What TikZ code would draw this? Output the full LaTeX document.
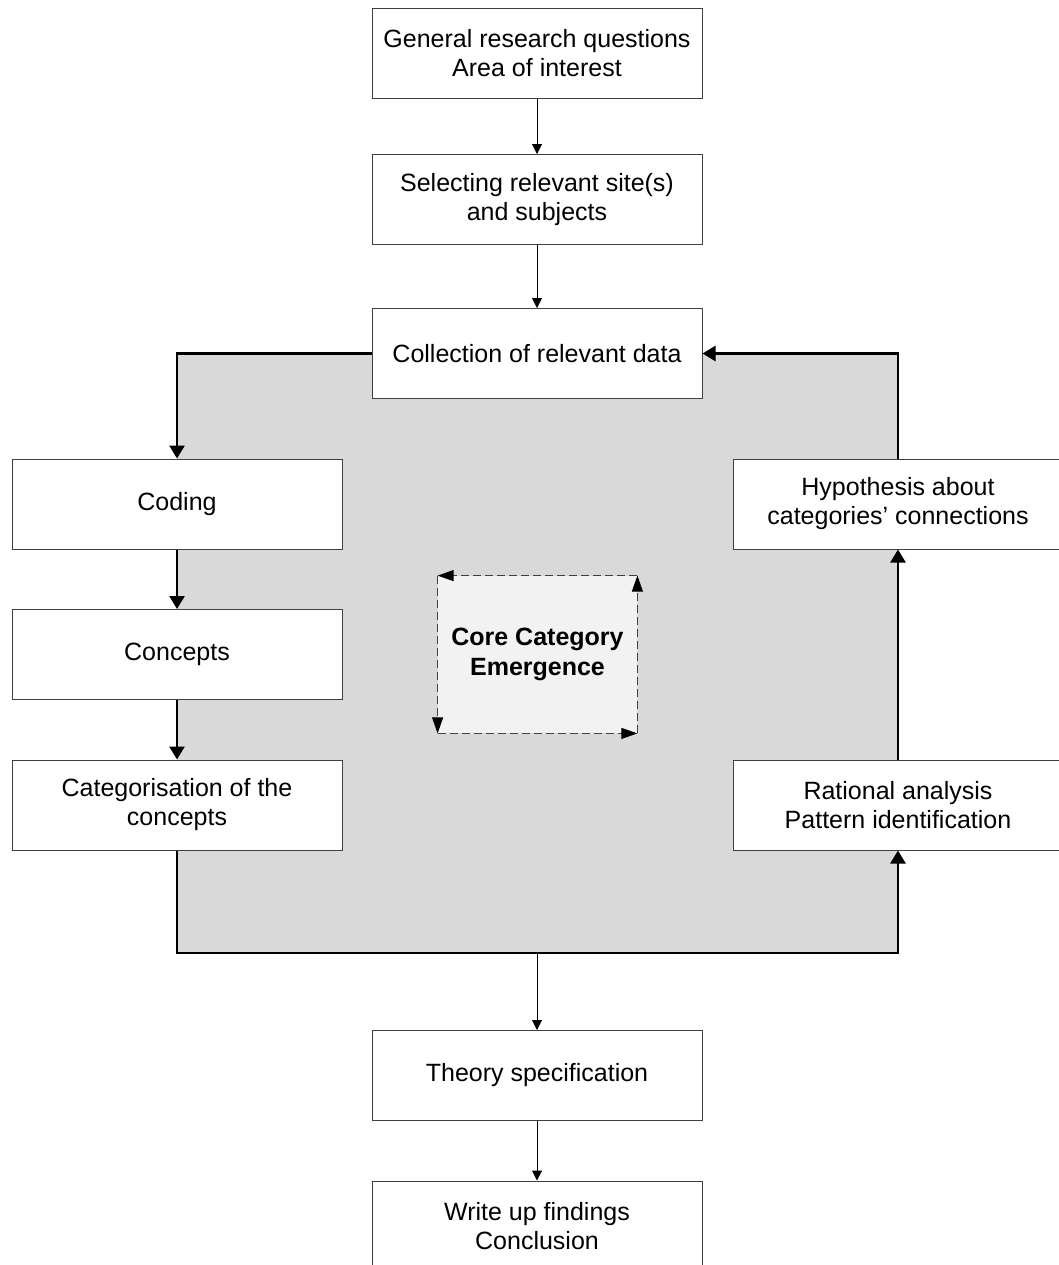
\documentclass[tikz,border=0pt]{standalone}
\usepackage{fontspec}
\setmainfont{Liberation Sans}
\usetikzlibrary{arrows.meta}
\definecolor{loopgray}{HTML}{D9D9D9}
\definecolor{coregray}{HTML}{F2F2F2}
\definecolor{rimgray}{HTML}{404040}
\begin{document}
\begin{tikzpicture}[x=0.5pt,y=-0.5pt,
  box/.style={draw=rimgray,line width=0.5pt,fill=white,minimum width=165pt,minimum height=45pt,
    inner sep=0pt,align=center,font=\fontsize{12.5}{14.5}\selectfont},
  flowarrow/.style={line width=0.5pt,-{Triangle[width=5pt,length=5pt]}},
  looparrow/.style={line width=1.3pt,-{Triangle[width=7.5pt,length=6.5pt]}},
  corearrow/.style={rimgray,line width=0.5pt,dash pattern=on 4pt off 2pt,
    -{Triangle[width=5.5pt,length=8pt,color=black]}}]
\useasboundingbox (0,0) rectangle (1059,1265);
\clip (0,0) rectangle (1059,1265);

\fill[loopgray] (177,353) rectangle (898,953);
\coordinate (bright) at (898,953);
\coordinate (exit) at (537,953);

\node[box] (gen) at (537,53.5) {General research questions\\Area of interest};
\node[box] (sel) at (537,199.5) {Selecting relevant site(s)\\and subjects};
\node[box] (coll) at (537,353.5) {Collection of relevant data};
\node[box] (coding) at (177,504) {Coding};
\node[box] (concepts) at (177,654.5) {Concepts};
\node[box] (categ) at (177,805) {Categorisation of the\\concepts};
\node[box] (hyp) at (898,504) {Hypothesis about\\categories' connections};
\node[box] (rat) at (898,805) {Rational analysis\\Pattern identification};
\node[box] (theory) at (537,1075.5) {Theory specification};
\node[box] (write) at (537,1226) {Write up findings\\Conclusion};
\node[fill=coregray,minimum width=99.5pt,minimum height=78.5pt,inner sep=0pt,align=center,
  font=\fontsize{12.5}{15}\selectfont\bfseries] (core) at (537.5,654.5) {Core Category\\Emergence};

\draw[flowarrow] (gen) -- (sel);
\draw[flowarrow] (sel) -- (coll);
\draw[flowarrow] (exit) -- (theory);
\draw[flowarrow] (theory) -- (write);

\draw[looparrow] (coll.west) -| (coding.north);
\draw[looparrow] (coding) -- (concepts);
\draw[looparrow] (concepts) -- (categ);
\draw[looparrow] (categ.south) |- (bright) -- (rat.south);
\draw[looparrow] (rat) -- (hyp);
\draw[looparrow] (hyp.north) |- (coll.east);

\draw[corearrow] (core.north east) -- (core.north west);
\draw[corearrow] (core.north west) -- (core.south west);
\draw[corearrow] (core.south west) -- (core.south east);
\draw[corearrow] (core.south east) -- (core.north east);

\end{tikzpicture}
\end{document}
